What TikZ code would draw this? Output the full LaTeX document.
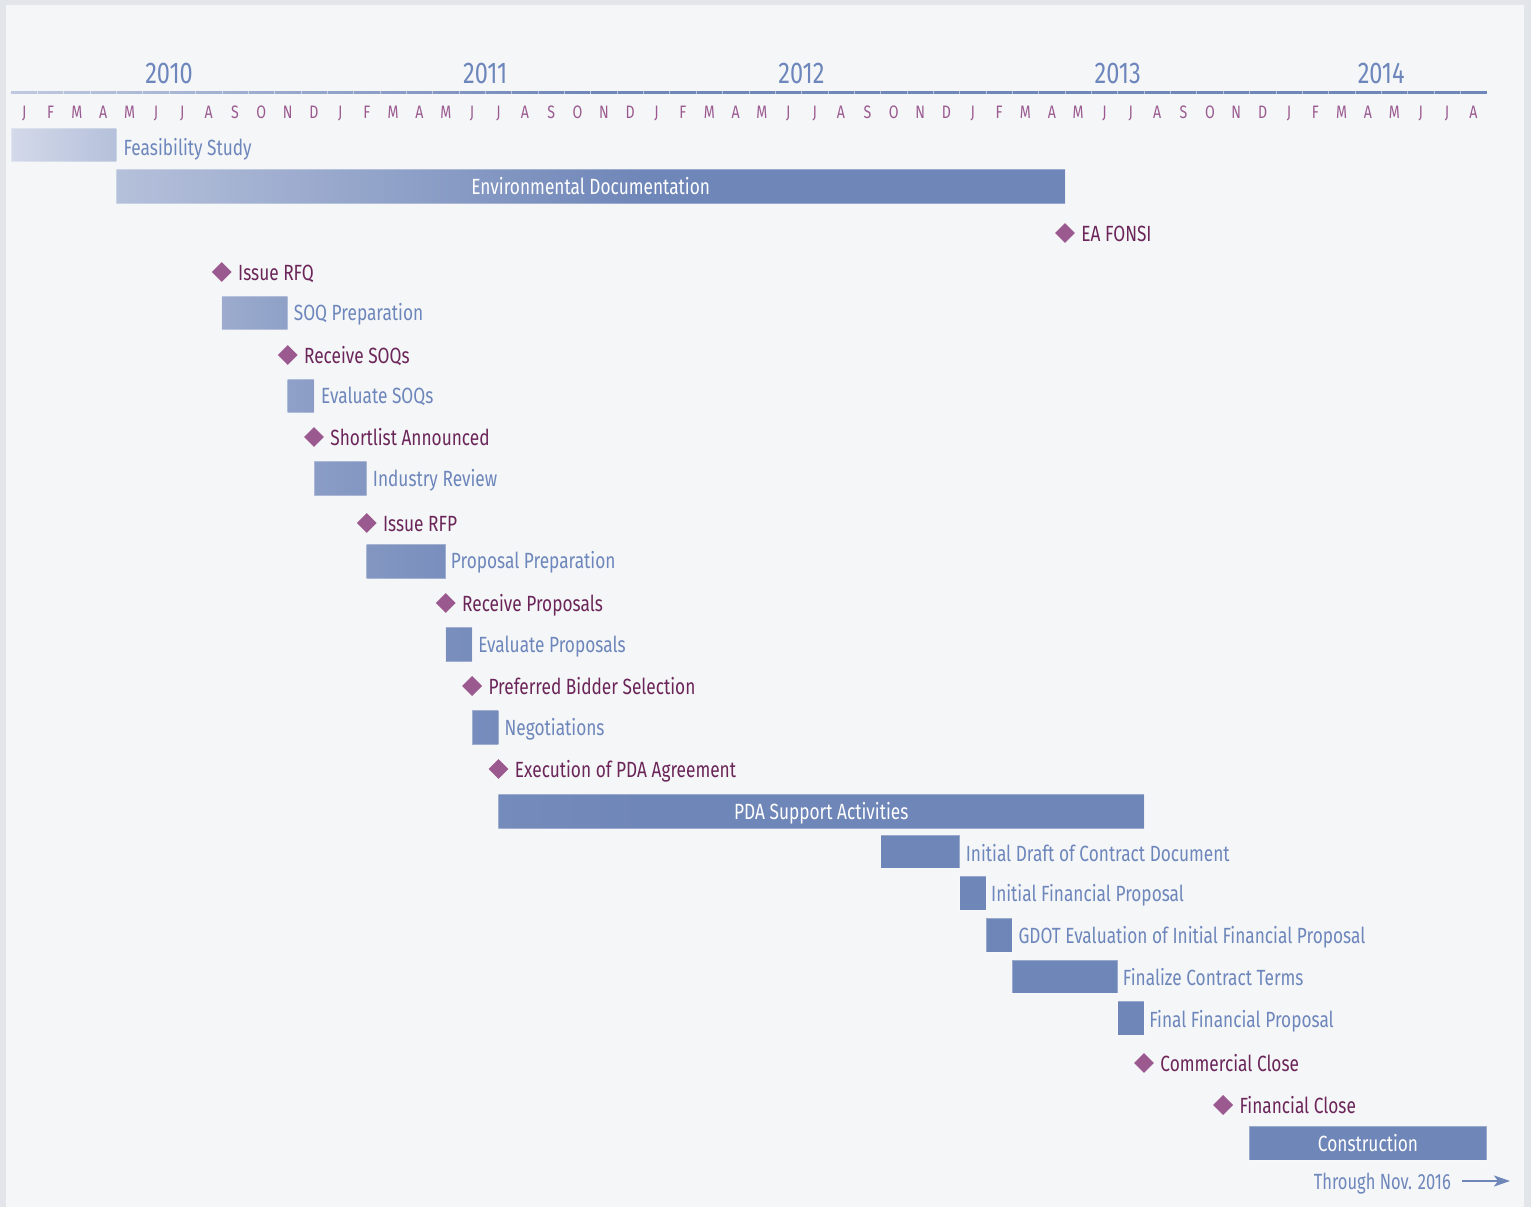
\documentclass[tikz,border=0pt]{standalone}
\usepackage{fontspec}
\setmainfont{Fira Sans}[FakeStretch=0.785]
\usetikzlibrary{shapes.geometric,arrows.meta}

\definecolor{barblue}{HTML}{6F86B8}
\definecolor{barlight}{HTML}{D3D9E9}
\definecolor{textblue}{HTML}{6D86BB}
\definecolor{monthpurple}{HTML}{9A5A90}
\definecolor{milepurple}{HTML}{9B5A8F}
\definecolor{miletext}{HTML}{6B2559}
\definecolor{panel}{HTML}{F5F6F8}
\definecolor{frame}{HTML}{E2E5E9}

% bar from month #1 to month #2, top #3, bottom #4
% colour goes from light to full blue up to month 24
\newcount\barno
\newcommand\taskbar[4]{%
  \global\advance\barno by 1
  \pgfmathsetmacro\midm{max(#1,min(#2,24))}%
  \pgfmathtruncatemacro\shadeA{100*(1-(1-min(#1,24)/24)*(1-min(#1,24)/24))}%
  \pgfmathtruncatemacro\shadeB{100*(1-(1-\midm/24)*(1-\midm/24))}%
  \pgfmathsetmacro\stopbp{25+50*(\midm-#1)/(#2-#1)}%
  \colorlet{barleft}{barblue!\shadeA!barlight}%
  \colorlet{barright}{barblue!\shadeB!barlight}%
  \ifdim\midm pt>#1pt
    \pgfdeclarehorizontalshading{barshade\the\barno}{100bp}{color(0bp)=(barleft);
      color(25bp)=(barleft); color(\stopbp bp)=(barright); color(100bp)=(barright)}%
    \shade[shading=barshade\the\barno] (#1,#3) rectangle (#2,#4);
  \else
    \fill[barblue] (#1,#3) rectangle (#2,#4);
  \fi
  \draw[white, opacity=.3, line width=.8pt] (#1,#3) rectangle (#2,#4);
}

\begin{document}
\begin{tikzpicture}[x=1pt, y=-1pt,
  month/.style={font=\fontsize{18}{18}\selectfont, text=monthpurple, anchor=base, inner sep=0},
  year/.style={font=\fontsize{30}{30}\selectfont, text=textblue, anchor=base, inner sep=0},
  tasklabel/.style={font=\fontsize{22}{22}\selectfont, text=textblue, anchor=base west, inner sep=0},
  barlabel/.style={font=\fontsize{22}{22}\selectfont, text=white, anchor=base, inner sep=0},
  milestone/.style={diamond, fill=milepurple, inner sep=0, minimum width=20pt, minimum height=20pt},
  milelabel/.style={font=\fontsize{22}{22}\selectfont, text=miletext, anchor=base west, inner sep=0}]
\useasboundingbox (0,0) rectangle (1531,1207);
\fill[frame] (0,0) rectangle (1531,1207);
\fill[panel] (6,5) rectangle (1524,1207);

\begin{scope}[xshift=11pt, x=26.35pt]
% time axis
\shade[left color=barlight!80!barblue, right color=barblue] (0,91) rectangle (22,93.5);
\fill[barblue] (22,91) rectangle (56,93.5);
\foreach \m in {1,...,55}
    \draw[white, opacity=.5, line width=.6pt] (\m,90.5) -- (\m,94);

\foreach \yr/\m in {2010/6, 2011/18, 2012/30, 2013/42, 2014/52}
    \node[year] (y\yr) at (\m,83.5) {\yr};

\foreach \yr in {0,...,4} {
    \foreach \l [count=\i from 0] in {J,F,M,A,M,J,J,A,S,O,N,D} {
        \pgfmathtruncatemacro\m{12*\yr+\i}
        \ifnum\m<56
            \node[month] (mon\m) at (\m+0.5,118.3) {\l};
        \fi
    }
}

% bars
\taskbar{0}{4}{128}{161}
\taskbar{4}{40}{169}{203}
\taskbar{8}{10.5}{296}{329}
\taskbar{10.5}{11.5}{379}{412}
\taskbar{11.5}{13.5}{461}{495}
\taskbar{13.5}{16.5}{544}{578}
\taskbar{16.5}{17.5}{627}{661}
\taskbar{17.5}{18.5}{710}{744}
\taskbar{18.5}{43}{794}{828}
\taskbar{33}{36}{835}{868}
\taskbar{36}{37}{876}{910}
\taskbar{37}{38}{918}{952}
\taskbar{38}{42}{960}{993}
\taskbar{42}{43}{1001}{1035}
\taskbar{47}{56}{1126}{1160}

\node[tasklabel] (feas) at ([xshift=7pt]4,155) {Feasibility Study};
\node[barlabel] (envdoc) at (22,194.5) {Environmental Documentation};
\node[tasklabel] (soqprep) at ([xshift=6pt]10.5,320.5) {SOQ Preparation};
\node[tasklabel] (evalsoq) at ([xshift=7pt]11.5,403.5) {Evaluate SOQs};
\node[tasklabel] (indrev) at ([xshift=6pt]13.5,486) {Industry Review};
\node[tasklabel] (propprep) at ([xshift=5pt]16.5,568) {Proposal Preparation};
\node[tasklabel] (evalprop) at ([xshift=6pt]17.5,652) {Evaluate Proposals};
\node[tasklabel] (negot) at ([xshift=6pt]18.5,735) {Negotiations};
\node[barlabel] (pdasupp) at (30.75,819) {PDA Support Activities};
\node[tasklabel] (draft) at ([xshift=6pt]36,861) {Initial Draft of Contract Document};
\node[tasklabel] (initfin) at ([xshift=5pt]37,901) {Initial Financial Proposal};
\node[tasklabel] (gdot) at ([xshift=6pt]38,943) {GDOT Evaluation of Initial Financial Proposal};
\node[tasklabel] (terms) at ([xshift=5pt]42,985) {Finalize Contract Terms};
\node[tasklabel] (finalfin) at ([xshift=5pt]43,1027) {Final Financial Proposal};
\node[barlabel] (constr) at (51.5,1151.5) {Construction};

% milestones
\foreach \n/\m/\y/\t in {fonsi/40/233/EA FONSI, rfq/8/272/Issue RFQ,
    recsoq/10.5/355/Receive SOQs, short/11.5/437/Shortlist Announced,
    rfp/13.5/523/Issue RFP, recprop/16.5/603/Receive Proposals,
    bidder/17.5/686/Preferred Bidder Selection,
    pda/18.5/769/Execution of PDA Agreement,
    commclose/43/1063/Commercial Close, finclose/46/1105/Financial Close} {
    \node[milestone] (\n) at (\m,\y) {};
    \node[milelabel] (\n text) at ([xshift=6pt, yshift=-8pt]\n.east) {\t};
}
\end{scope}

\node[tasklabel, anchor=base east, font=\fontsize{22}{22}\addfontfeature{FakeStretch=0.75}] (through) at (1451,1189) {Through Nov. 2016};
\coordinate (arrowstart) at (1462,1181);
\coordinate (arrowend) at (1510,1181);
\draw[barblue, line width=2pt, -{Stealth[length=16pt, width=11pt, inset=4pt]}] (arrowstart) -- (arrowend);
\end{tikzpicture}
\end{document}
